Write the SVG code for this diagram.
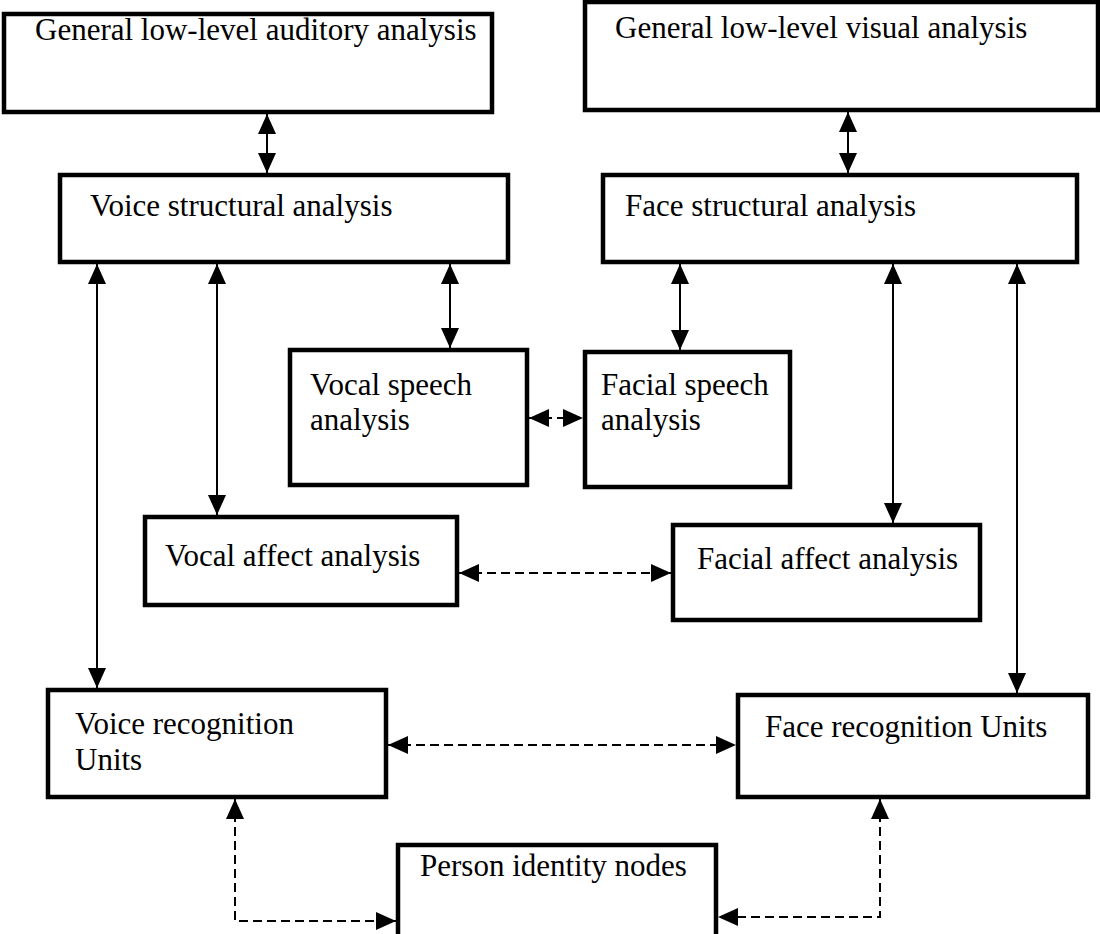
<svg xmlns="http://www.w3.org/2000/svg" width="1100" height="934" viewBox="0 0 1100 934">
<style>
.box{fill:#fff;stroke:#000;stroke-width:4.5}
.t{font-family:"Liberation Serif","Times New Roman",serif;font-size:31px;fill:#000}
.s{fill:none;stroke:#000;stroke-width:2;marker-start:url(#ah);marker-end:url(#ah)}
.d{fill:none;stroke:#000;stroke-width:2;stroke-dasharray:9 5;marker-start:url(#ah);marker-end:url(#ah)}
</style>
<defs>
<marker id="ah" viewBox="0 0 20 18" refX="20" refY="9" markerWidth="20" markerHeight="18" markerUnits="userSpaceOnUse" orient="auto-start-reverse">
<path d="M0,0 L20,9 L0,18 z" fill="#000"/>
</marker>
</defs>
<rect width="1100" height="934" fill="#fff"/>
<g id="connectors">
<path class="s" d="M267,114 V173"/>
<path class="s" d="M848,112 V173"/>
<path class="s" d="M97,264 V688"/>
<path class="s" d="M217,264 V515"/>
<path class="s" d="M450,264 V348"/>
<path class="s" d="M680,264 V350"/>
<path class="s" d="M893,264 V523"/>
<path class="s" d="M1017,264 V693"/>
<path class="d" d="M529,418 H583"/>
<path class="d" d="M459,573 H671"/>
<path class="d" d="M388,745 H736"/>
<path class="d" d="M235,799 V921 H396"/>
<path class="d" d="M880,799 V917 H718"/>
</g>
<g id="auditory"><rect class="box" x="4" y="14" width="488" height="98"/><text class="t" x="35" y="40">General low-level auditory analysis</text></g>
<g id="visual"><rect class="box" x="585" y="2" width="513" height="108"/><text class="t" x="615" y="38">General low-level visual analysis</text></g>
<g id="voice-structural"><rect class="box" x="60" y="175" width="448" height="87"/><text class="t" x="90" y="216">Voice structural analysis</text></g>
<g id="face-structural"><rect class="box" x="603" y="175" width="474" height="87"/><text class="t" x="625" y="216">Face structural analysis</text></g>
<g id="vocal-speech"><rect class="box" x="290" y="350" width="237" height="135"/><text class="t" x="310" y="395">Vocal speech</text><text class="t" x="310" y="430">analysis</text></g>
<g id="facial-speech"><rect class="box" x="585" y="352" width="205" height="135"/><text class="t" x="601" y="395">Facial speech</text><text class="t" x="601" y="430">analysis</text></g>
<g id="vocal-affect"><rect class="box" x="145" y="517" width="312" height="88"/><text class="t" x="165" y="566">Vocal affect analysis</text></g>
<g id="facial-affect"><rect class="box" x="673" y="525" width="307" height="95"/><text class="t" x="697" y="569">Facial affect analysis</text></g>
<g id="voice-recognition"><rect class="box" x="48" y="690" width="338" height="107"/><text class="t" x="75" y="734">Voice recognition</text><text class="t" x="75" y="770">Units</text></g>
<g id="face-recognition"><rect class="box" x="738" y="695" width="350" height="102"/><text class="t" x="765" y="737">Face recognition Units</text></g>
<g id="person-identity"><rect class="box" x="398" y="845" width="318" height="95"/><text class="t" x="420" y="876">Person identity nodes</text></g>
</svg>
